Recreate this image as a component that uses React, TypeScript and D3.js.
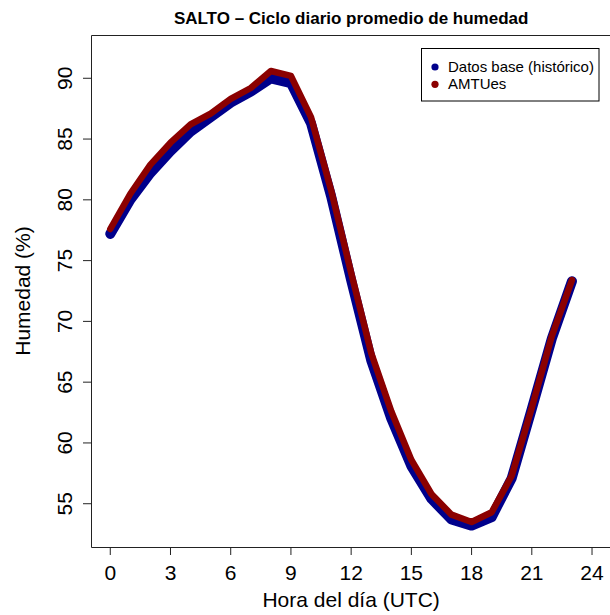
import React from "react";
import * as d3 from "d3";

const hours = [0,1,2,3,4,5,6,7,8,9,10,11,12,13,14,15,16,17,18,19,20,21,22,23];
const baseValues = [77.2,80.0,82.2,84.0,85.6,86.8,88.0,88.9,90.0,89.6,86.3,80.3,73.4,66.8,62.0,58.1,55.4,53.7,53.2,53.9,57.1,62.8,68.6,73.3];
const amtValues = [77.6,80.5,82.9,84.7,86.2,87.1,88.3,89.2,90.6,90.2,86.8,80.8,74.0,67.4,62.6,58.6,55.8,54.1,53.5,54.3,57.3,62.9,68.8,73.4];
const xTicks = [0,3,6,9,12,15,18,21,24];
const yTicks = [55,60,65,70,75,80,85,90];
const seriesNames = ["Datos base (histórico)", "AMTUes"];
const seriesColors = ["#00008B", "#8B0000"];
const titleText = "SALTO – Ciclo diario promedio de humedad";
const xLabel = "Hora del día (UTC)";
const yLabel = "Humedad (%)";

const FONT = "'Liberation Sans', Arial, Helvetica, sans-serif";

export default function App() {
  const W = 610, H = 615;
  const left = 91, right = 611.3, top = 35, bottom = 547;
  const x = d3.scaleLinear().domain([-0.96, 24.96]).range([left, right]);
  const y = d3.scaleLinear().domain([51.44, 93.56]).range([bottom, top]);
  const line = d3.line<number>().x((_, i) => x(hours[i])).y((d) => y(d));
  const series = [baseValues, amtValues];
  const widths = [10, 6.5];

  return (
    <svg width={W} height={H} style={{ position: "absolute", left: 0, top: 0, background: "#fff" }} fontFamily={FONT}>
      <rect x={0} y={0} width={W} height={H} fill="#fff" />
      {/* title */}
      <text x={(left + right) / 2} y={24} textAnchor="middle" fontWeight="bold" fontSize={17} fill="#000">{titleText}</text>
      {/* lines */}
      {series.map((s, i) => (
        <path key={i} d={line(s) || ""} fill="none" stroke={seriesColors[i]} strokeWidth={widths[i]} strokeLinecap="round" strokeLinejoin="round" />
      ))}
      {/* box */}
      <path d={`M${W + 2},${top + 0.5}H${left + 0.5}V${bottom + 0.5}H${W + 2}`} fill="none" stroke="#222" strokeWidth={1} />
      {/* x ticks */}
      {xTicks.map((t) => (
        <g key={t}>
          <line x1={x(t)} x2={x(t)} y1={bottom + 0.5} y2={bottom + 8} stroke="#222" strokeWidth={1} />
          <text x={x(t)} y={580} textAnchor="middle" fontSize={21} fill="#000">{t}</text>
        </g>
      ))}
      {/* y ticks */}
      {yTicks.map((t) => (
        <g key={t}>
          <line x1={left + 0.5} x2={left - 8} y1={y(t)} y2={y(t)} stroke="#222" strokeWidth={1} />
          <text transform={`translate(72,${y(t)}) rotate(-90)`} textAnchor="middle" fontSize={21} fill="#000">{t}</text>
        </g>
      ))}
      {/* axis labels */}
      <text x={(left + right) / 2} y={607} textAnchor="middle" fontSize={21} fill="#000">{xLabel}</text>
      <text transform={`translate(30,${(top + bottom) / 2}) rotate(-90)`} textAnchor="middle" fontSize={21} fill="#000">{yLabel}</text>
      {/* legend */}
      <rect x={421.5} y={48.5} width={177.5} height={52.5} fill="#fff" stroke="#000" strokeWidth={1} />
      {seriesNames.map((n, i) => (
        <g key={n}>
          <circle cx={435} cy={67 + i * 17.3} r={3.6} fill={seriesColors[i]} />
          <text x={448} y={72 + i * 17.3} fontSize={15} fill="#000">{n}</text>
        </g>
      ))}
    </svg>
  );
}
